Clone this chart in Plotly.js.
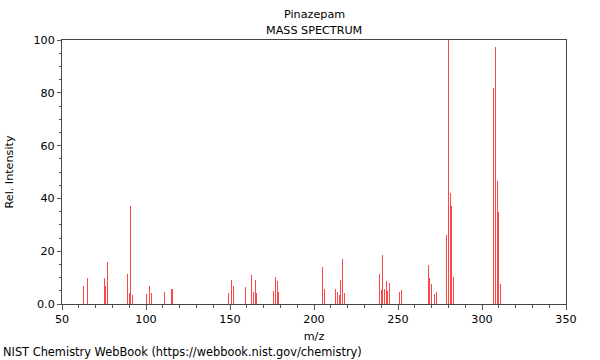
<!DOCTYPE html>
<html>
<head>
<meta charset="utf-8">
<script src="https://cdn.plot.ly/plotly-3.0.1.min.js"></script>
<style>html,body{margin:0;padding:0;background:#fff}#chart{width:600px;height:360px}</style>
</head>
<body>
<div id="chart"></div>
<script>
const mz = [63,65,75,76,77,89,90,91,92,100,102,103,111,115,116,
  149,151,152,159,163,164,165,166,176,177,178,179,
  205,206,213,214,215,216,217,218,239,240,241,242,243,244,245,251,252,
  268,269,270,272,273,279,280,281,282,283,307,308,309,310,311];
const intensity = [7,10,10,7,16,11.4,4,37,3.5,3.8,7,4,4.5,5.7,5.7,
  4,9.1,7,6.3,10.8,4.5,9,4,5,10.1,8.6,4.5,
  14.1,5.7,5.7,4.5,3.5,9.1,17,4,11.4,5.3,18.6,5.7,8.6,5,8,4.5,5.2,
  14.8,9.8,7.4,3.7,4.5,26.1,100,41.9,37.1,10.1,81.7,97.2,46.7,35,7.4];
const xTickVals = [50,100,150,200,250,300,350];
const yTickVals = [0,20,40,60,80,100];
const yTickText = ["0.0","20","40","60","80","100"];
const titleLines = ["Pinazepam","MASS SPECTRUM"];
const footer = "NIST Chemistry WebBook (https://webbook.nist.gov/chemistry)";

const font = {family: "DejaVu Sans", size: 11.2, color: "#000"};
const footFont = {family: "DejaVu Sans", size: 11.4, color: "#000"};
const trace = {
  type: "bar", x: mz, y: intensity, width: 0.6,
  marker: {color: "rgb(255,70,70)", line: {width: 0}},
  hoverinfo: "x+y"
};
const layout = {
  width: 600, height: 360,
  margin: {l: 62, r: 34, t: 40, b: 56, pad: 0},
  paper_bgcolor: "#fff", plot_bgcolor: "#fff",
  font: font, showlegend: false, bargap: 0,
  xaxis: {
    range: [50, 350], tickvals: xTickVals, ticks: "outside", ticklen: 5, tickcolor: "#555",
    showgrid: false, zeroline: false, showline: true, linecolor: "#444", linewidth: 1, mirror: true,
    minor: {dtick: 10, ticks: "outside", ticklen: 3, tickcolor: "#555", showgrid: false},
    tickfont: font, title: {text: "m/z", font: font, standoff: 6}
  },
  yaxis: {
    range: [0, 100], tickvals: yTickVals, ticktext: yTickText, ticks: "outside", ticklen: 4, tickcolor: "#555",
    showgrid: false, zeroline: false, showline: true, linecolor: "#444", linewidth: 1, mirror: true,
    minor: {dtick: 5, ticks: "outside", ticklen: 2, tickcolor: "#555", showgrid: false},
    tickfont: font, title: {text: "Rel. Intensity", font: font, standoff: 17}
  },
  annotations: [
    {text: titleLines[0], xref: "paper", yref: "paper", x: 0.5, y: 1, yshift: 26, showarrow: false, font: font, xanchor: "center", yanchor: "middle"},
    {text: titleLines[1], xref: "paper", yref: "paper", x: 0.5, y: 1, yshift: 10, showarrow: false, font: font, xanchor: "center", yanchor: "middle"},
    {text: footer, xref: "paper", yref: "paper", x: 0, y: 0, xshift: -61, yshift: -48, showarrow: false, font: footFont, xanchor: "left", yanchor: "middle"}
  ]
};
Plotly.newPlot("chart", [trace], layout, {staticPlot: true, displayModeBar: false});
</script>
</body>
</html>
